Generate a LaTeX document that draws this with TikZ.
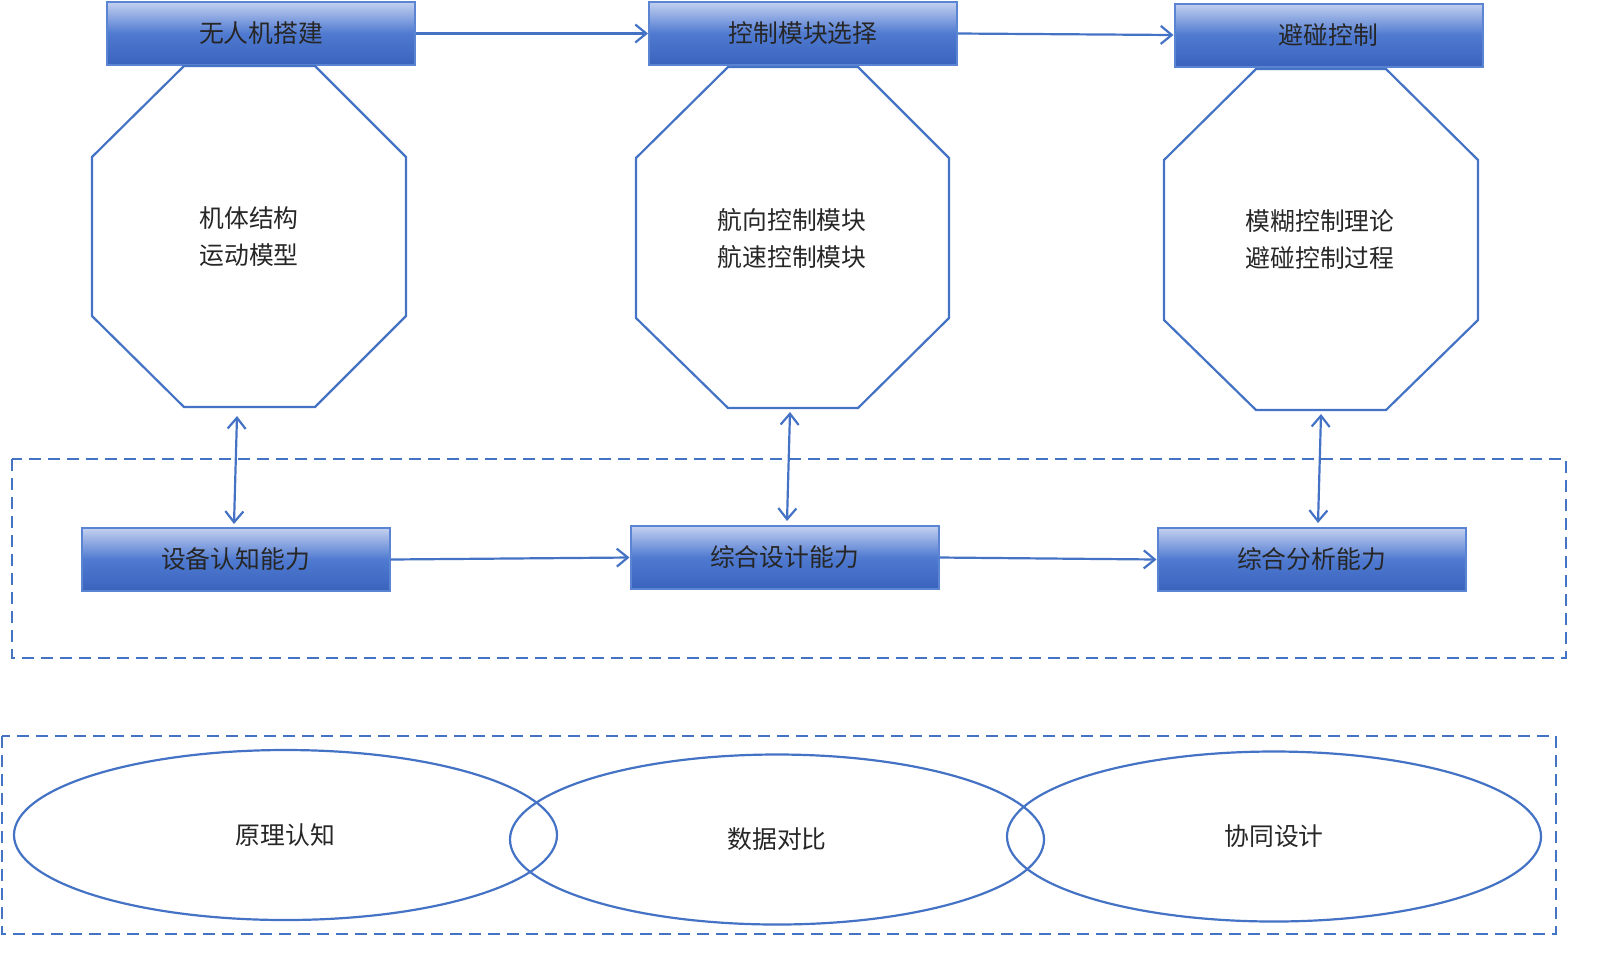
\documentclass[tikz,border=0pt]{standalone}
\usepackage{fontspec}
\setmainfont{Noto Sans CJK SC}
\usetikzlibrary{arrows.meta,shapes.geometric}
\definecolor{lb}{HTML}{4472C4}
\definecolor{boxtop}{HTML}{C3D0F0}
\definecolor{boxmid}{HTML}{4F7AD0}
\definecolor{boxbot}{HTML}{3A63BE}
\definecolor{boxline}{HTML}{5B84D2}
\begin{document}
\begin{tikzpicture}[x=0.5pt,y=-0.5pt,
  box/.style={draw=boxline, line width=1pt, top color=boxtop, bottom color=boxbot, middle color=boxmid,
    minimum width=154pt, minimum height=31.5pt, inner sep=0pt, text=black!85,
    font=\fontsize{12.4}{13}\selectfont},
  oct/.style={draw=lb, line width=1.1pt},
  octtext/.style={align=center, font=\fontsize{12.4}{18.5}\selectfont, text=black!85},
  ell/.style={draw=lb, line width=1.1pt, ellipse, minimum width=271.5pt, minimum height=85pt, inner sep=0pt,
    font=\fontsize{12.4}{13}\selectfont, text=black!85},
  frame/.style={draw=lb, line width=1.1pt, dash pattern=on 6pt off 3.5pt},
  arr/.style={draw=lb, line width=1.1pt, -{Straight Barb[length=5.5pt,width=9pt]}},
  darr/.style={draw=lb, line width=1.1pt, {Straight Barb[length=5.5pt,width=9pt]}-{Straight Barb[length=5.5pt,width=9pt]}}
]
\useasboundingbox (0,0) rectangle (1598,954);

% dashed frames
\draw[frame] (12,459) rectangle (1566,658);
\draw[frame] (2,736) rectangle (1556,934);

% top boxes
\node[box] (b1) at (261,33.5) {无人机搭建};
\node[box] (b2) at (803,33.5) {控制模块选择};
\node[box] (b3) at (1328.5,35) {避碰控制};

% octagons
\draw[oct] (184,66) -- (315,66) -- (406,157) -- (406,316) -- (315,407) -- (184,407) -- (92,316) -- (92,157) -- cycle;
\draw[oct] (728,67) -- (858,67) -- (949,158) -- (949,318) -- (858,408) -- (728,408) -- (636,318) -- (636,158) -- cycle;
\draw[oct] (1256,69) -- (1386,69) -- (1478,160) -- (1478,320) -- (1386,410) -- (1256,410) -- (1164,320) -- (1164,160) -- cycle;

\node[octtext] (t1) at (249,236.5) {机体结构\\运动模型};
\node[octtext] (t2) at (792,238.5) {航向控制模块\\航速控制模块};
\node[octtext] (t3) at (1320,239.5) {模糊控制理论\\避碰控制过程};

% middle boxes
\node[box] (m1) at (235.5,559.5) {设备认知能力};
\node[box] (m2) at (784.5,557.5) {综合设计能力};
\node[box] (m3) at (1311.5,559.5) {综合分析能力};

% ellipses
\node[ell] (e1) at (285.5,835) {原理认知};
\node[ell, minimum width=267pt] (e2) at (777,839.5) {数据对比};
\node[ell, minimum width=267pt] (e3) at (1274,836.5) {协同设计};

% horizontal arrows
\draw[arr] (b1.east) -- (b2.west);
\draw[arr] (b2.east) -- (b3.west);
\draw[arr] (m1.east) -- (m2.west);
\draw[arr] (m2.east) -- (m3.west);

% vertical double arrows
\coordinate (o1) at (237,416);
\coordinate (o2) at (790,412);
\coordinate (o3) at (1321,414);
\coordinate (p1) at (234,524);
\coordinate (p2) at (787,521);
\coordinate (p3) at (1318,523);
\draw[darr] (o1) -- (p1);
\draw[darr] (o2) -- (p2);
\draw[darr] (o3) -- (p3);
\end{tikzpicture}
\end{document}
